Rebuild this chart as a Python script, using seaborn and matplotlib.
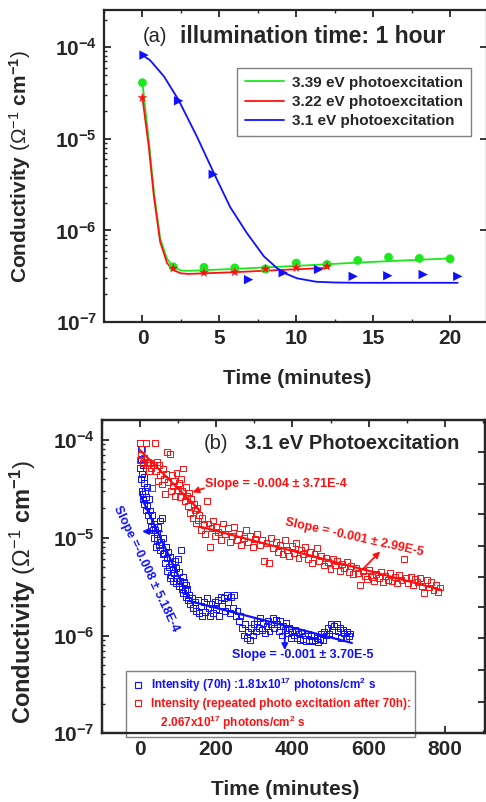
import numpy as np
import pandas as pd
import matplotlib
matplotlib.use("Agg")
import matplotlib.pyplot as plt
import seaborn as sns
from matplotlib.lines import Line2D
from matplotlib.ticker import LogLocator, NullFormatter, MultipleLocator, FixedLocator

# ---------------- Panel (a) data ----------------
t_green = [0, 2, 4, 6, 8, 10, 12, 14, 16, 18, 20]
s_green = [4.1e-5, 4.0e-7, 3.95e-7, 3.9e-7, 3.8e-7, 4.4e-7, 4.25e-7, 4.7e-7, 5.1e-7, 4.95e-7, 4.9e-7]
t_red = [0, 2, 4, 6, 8, 10, 12]
s_red = [2.8e-5, 3.85e-7, 3.45e-7, 3.5e-7, 3.8e-7, 3.9e-7, 4.05e-7]
t_blue = [0.1, 2.35, 4.6, 6.9, 9.15, 11.45, 13.7, 15.95, 18.25, 20.5]
s_blue = [8.2e-5, 2.6e-5, 4.1e-6, 2.9e-7, 3.45e-7, 3.75e-7, 3.15e-7, 3.2e-7, 3.3e-7, 3.15e-7]

fit_green_t = [0, 0.4, 0.75, 1.15, 1.6, 2.0, 2.5, 3, 6, 10, 14, 17, 20]
fit_green_s = [4.1e-5, 1.0e-5, 2.6e-6, 8.2e-7, 4.9e-7, 4.0e-7, 3.65e-7, 3.62e-7, 3.8e-7, 4.1e-7, 4.45e-7, 4.7e-7, 4.95e-7]
fit_red_t = [0, 0.4, 0.75, 1.15, 1.6, 2.0, 2.5, 3, 6, 9, 12]
fit_red_s = [2.8e-5, 8.5e-6, 2.3e-6, 7.5e-7, 4.4e-7, 3.7e-7, 3.4e-7, 3.35e-7, 3.5e-7, 3.7e-7, 3.9e-7]
fit_blue_t = [0, 0.5, 1.4, 2.35, 3.55, 4.65, 5.7, 6.8, 7.9, 9.0, 10.05, 11.3, 12.5, 14, 20.5]
fit_blue_s = [8.2e-5, 7.2e-5, 4.8e-5, 2.65e-5, 1.05e-5, 4.2e-6, 1.8e-6, 9.3e-7, 5.2e-7, 3.55e-7,
              3.0e-7, 2.75e-7, 2.7e-7, 2.68e-7, 2.68e-7]

legend_a = ["3.39 eV photoexcitation", "3.22 eV photoexcitation", "3.1 eV photoexcitation"]

# ---------------- Panel (b) data (conductivity in 1e-6 S/cm) ----------------
b_blue_t = [0, 0, 2, 3, 4, 5, 6, 7, 8, 9, 10, 11, 12, 14, 15, 16, 18, 20, 22, 24, 26, 28, 30, 32, 34, 36,
            38, 40, 42, 44, 46, 48, 50, 52, 54, 56, 58, 60, 62, 64, 66, 68, 70, 72, 74, 76, 78, 80, 82, 84,
            86, 88, 90, 92, 94, 96, 98, 100, 102, 104, 106, 108, 110, 112, 114, 116, 118, 120, 122, 124,
            126, 128, 132, 136, 140, 144, 148, 152, 156, 160, 164, 168, 172, 176, 180, 184, 188, 192, 196,
            200, 204, 208, 212, 216, 220, 224, 228, 232, 236, 240, 244, 248, 252, 256, 260, 264, 268, 272,
            276, 280, 284, 288, 292, 296, 300, 304, 308, 312, 316, 320, 324, 328, 332, 336, 340, 344, 348,
            352, 356, 360, 364, 368, 372, 376, 380, 384, 388, 392, 396, 400, 404, 408, 412, 416, 420, 424,
            428, 432, 436, 440, 444, 448, 452, 456, 460, 464, 468, 472, 476, 480, 484, 488, 492, 496, 500,
            504, 508, 512, 516, 520, 524, 528, 532, 536, 540, 544, 548, 552]
b_blue_uS = [93, 52, 81, 40, 64, 30, 45, 28, 55, 25, 36, 42, 22, 30, 26, 19, 33, 21, 17, 25, 15, 19, 13,
             17, 12, 14, 10, 12, 8, 11, 9.5, 13, 8.5, 7.5, 15, 9, 16, 6.8, 10, 7, 5.5, 8, 6.2, 4.6, 7.2, 5,
             3.9, 6.3, 4.2, 5.4, 3.6, 4.8, 4.4, 5.8, 3.4, 4.9, 3.9, 6.0, 3.2, 4.5, 3.6, 7.5, 3.0, 4.0, 2.7,
             3.5, 2.9, 3.3, 2.5, 3.0, 2.3, 2.6, 2.1, 2.4, 1.9, 2.2, 1.8, 2.3, 1.7, 2.0, 1.6, 2.2, 1.75, 2.4,
             1.9, 1.6, 2.1, 1.7, 2.2, 1.85, 2.3, 1.6, 2.5, 2.0, 2.4, 1.8, 2.6, 2.2, 1.7, 2.5, 1.9, 2.6, 1.6,
             1.8, 1.4, 1.6, 1.2, 1.0, 1.3, 0.95, 1.1, 0.9, 1.2, 1.0, 1.3, 1.1, 1.4, 1.2, 1.5, 1.15, 1.35,
             1.05, 1.25, 1.4, 1.1, 1.3, 1.5, 1.2, 1.45, 1.3, 1.1, 1.4, 1.0, 1.25, 1.15, 1.35, 1.05, 1.2,
             0.95, 1.1, 1.0, 1.15, 0.95, 1.05, 0.9, 1.1, 0.92, 1.0, 0.88, 1.05, 0.9, 0.98, 0.87, 1.0, 0.9,
             0.95, 0.85, 0.93, 1.05, 0.9, 1.1, 1.0, 1.2, 1.05, 1.3, 1.15, 1.25, 1.0, 1.3, 1.1, 1.2, 0.95,
             1.15, 1.05, 0.95, 1.1, 0.98, 1.05]
b_red_t = [0, 0, 3, 6, 9, 12, 15, 18, 21, 24, 27, 30, 33, 36, 39, 42, 45, 48, 51, 54, 57, 60, 63, 66, 69,
           72, 75, 78, 81, 84, 87, 90, 93, 96, 99, 102, 105, 108, 111, 114, 117, 120, 123, 126, 129, 132,
           135, 138, 141, 144, 147, 150, 153, 156, 160, 164, 168, 172, 176, 180, 184, 188, 192, 196, 200,
           206, 212, 218, 224, 230, 236, 242, 248, 254, 260, 266, 272, 278, 284, 290, 296, 302, 308, 314,
           320, 326, 332, 338, 344, 350, 356, 362, 368, 374, 380, 386, 392, 398, 404, 410, 416, 422, 428,
           434, 440, 446, 452, 458, 464, 470, 476, 482, 488, 494, 500, 506, 512, 518, 524, 530, 536, 542,
           548, 554, 560, 566, 572, 578, 584, 590, 596, 602, 608, 614, 620, 626, 632, 638, 644, 650, 656,
           662, 668, 674, 680, 686, 692, 698, 704, 710, 716, 722, 728, 734, 740, 746, 752, 758, 764, 770,
           776, 782, 786]
b_red_uS = [62, 93, 70, 80, 58, 66, 93, 55, 60, 48, 58, 52, 32, 56, 93, 48, 60, 38, 56, 44, 35, 50, 40,
            28, 45, 75, 37, 72, 30, 44, 34, 38, 27, 46, 31, 36, 26, 40, 30, 51, 24, 33, 27, 21, 29, 18, 25,
            16, 22, 19, 14, 20, 15, 17, 12, 16, 13.5, 11, 24, 14, 8, 12.5, 15, 10.5, 13, 11.5, 9.5, 14, 11,
            12.5, 9, 10.5, 13, 9.5, 11, 8.5, 10, 12, 9, 10.5, 8, 9.8, 11, 8.5, 9.5, 5.8, 8.8, 5.5, 10, 7.8,
            9, 7.2, 8.5, 6.8, 9.5, 7.5, 6.5, 8.2, 7, 8.8, 6.2, 7.5, 6.8, 8, 6, 7.2, 5.5, 6.8, 7.8, 5.8, 6.5,
            5.2, 6.2, 5.6, 4.8, 6, 5.2, 5.8, 4.6, 5.4, 4.9, 5.7, 4.5, 5.1, 4.3, 4.9, 4.4, 3.3, 4.6, 4.1, 3.8,
            4.7, 4.0, 3.6, 4.3, 3.9, 4.5, 3.5, 4.1, 3.7, 4.4, 3.6, 4.0, 3.4, 4.2, 3.7, 6.0, 3.9, 3.4, 4.0,
            3.3, 3.8, 3.5, 3.9, 3.2, 2.7, 3.7, 3.1, 3.5, 2.9, 3.3, 2.8, 3.1]

# linear fits (segments) in panel (b)
b_red_fit1_t, b_red_fit1 = [0, 157], [7.9e-5, 1.9e-5]
b_red_fit2_t, b_red_fit2 = [157, 789], [1.3e-5, 2.94e-6]
b_blue_fit1_t, b_blue_fit1 = [0, 127], [2.8e-5, 2.48e-6]
b_blue_fit2_t, b_blue_fit2 = [131, 556], [2.25e-6, 8.4e-7]

legend_b = ["Intensity (70h) :1.81x10$^{17}$ photons/cm$^{2}$ s",
            "Intensity (repeated photo excitation after 70h):",
            "   2.067x10$^{17}$ photons/cm$^{2}$ s"]

# right-axis tick marks of panel (b) (as drawn in the original)
b_right_ticks = [7.46e-5, 3.56e-5, 1.73e-5, 8.3e-6, 3.96e-6, 1.94e-6, 9.4e-7, 4.4e-7, 2.1e-7]

# ---------------- styling ----------------
sns.set_style("ticks")
plt.rcParams["font.family"] = ["Liberation Sans", "DejaVu Sans"]
plt.rcParams["font.weight"] = "bold"
plt.rcParams["mathtext.fontset"] = "custom"
plt.rcParams["mathtext.rm"] = "Liberation Sans"
plt.rcParams["mathtext.bf"] = "Liberation Sans:bold"
plt.rcParams["mathtext.it"] = "Liberation Sans:italic"
plt.rcParams["mathtext.default"] = "regular"
plt.rcParams["axes.linewidth"] = 1.6

GREEN = "#1de81d"
RED = "#ff1010"
BLUE = "#1010ff"

fig = plt.figure(figsize=(4.86, 8.02), dpi=100)
ax_a = fig.add_axes([104 / 486, 1 - 322 / 802, 383 / 486, 312 / 802])
ax_b = fig.add_axes([101.7 / 486, 1 - 733.3 / 802, 383.3 / 486, 313.3 / 802])

# ---- panel (a)
df_fit = pd.concat([
    pd.DataFrame({"t": fit_green_t, "s": fit_green_s, "k": legend_a[0]}),
    pd.DataFrame({"t": fit_red_t, "s": fit_red_s, "k": legend_a[1]}),
    pd.DataFrame({"t": fit_blue_t, "s": fit_blue_s, "k": legend_a[2]}),
])
pal = {legend_a[0]: GREEN, legend_a[1]: RED, legend_a[2]: BLUE}
sns.lineplot(data=df_fit, x="t", y="s", hue="k", palette=pal, estimator=None, sort=False,
             lw=1.3, ax=ax_a, legend=False)
sns.scatterplot(x=t_green, y=s_green, color=GREEN, marker="o", s=40, edgecolor="none", ax=ax_a, zorder=3)
sns.scatterplot(x=t_red, y=s_red, color=RED, marker="*", s=55, edgecolor="none", ax=ax_a, zorder=3)
sns.scatterplot(x=t_blue, y=s_blue, color=BLUE, marker=">", s=45, edgecolor="none", ax=ax_a, zorder=3)

ax_a.set_yscale("log")
ax_a.set_xlim(-2.5, 22.4)
ax_a.set_ylim(1e-7, 2.55e-4)
ax_a.xaxis.set_major_locator(MultipleLocator(5))
ax_a.xaxis.set_minor_locator(MultipleLocator(2.5))

handles_a = [Line2D([], [], color=GREEN, lw=1.3), Line2D([], [], color=RED, lw=1.3),
             Line2D([], [], color=BLUE, lw=1.3)]
leg_a = ax_a.legend(handles_a, legend_a, loc="upper left", bbox_to_anchor=(0.347, 0.814),
                    borderaxespad=0, fancybox=False, framealpha=1, edgecolor="#808080",
                    prop={"size": 11, "weight": "bold"}, handlelength=2.6, handletextpad=0.5,
                    labelspacing=0.35, borderpad=0.5)
leg_a.get_frame().set_linewidth(1.0)

ax_a.text(0.1, 0.915, "(a)", transform=ax_a.transAxes, fontsize=14.5, fontweight="normal",
          ha="left", va="center")
ax_a.text(0.198, 0.915, "illumination time: 1 hour", transform=ax_a.transAxes, fontsize=16.5,
          fontweight="bold", ha="left", va="center")

# ---- panel (b)
df_b = pd.concat([
    pd.DataFrame({"t": b_blue_t, "s": np.array(b_blue_uS) * 1e-6, "k": "blue"}),
    pd.DataFrame({"t": b_red_t, "s": np.array(b_red_uS) * 1e-6, "k": "red"}),
])
sns.scatterplot(data=df_b, x="t", y="s", hue="k", palette={"blue": BLUE, "red": RED}, marker="s",
                s=18, facecolor="none", linewidth=0.7, ax=ax_b, legend=False)
for coll in ax_b.collections:
    fc = coll.get_facecolors()
    coll.set_edgecolors(fc)
    coll.set_facecolors("none")

for tt, ss, col in [(b_red_fit1_t, b_red_fit1, RED), (b_red_fit2_t, b_red_fit2, RED),
                    (b_blue_fit1_t, b_blue_fit1, BLUE), (b_blue_fit2_t, b_blue_fit2, BLUE)]:
    sns.lineplot(x=tt, y=ss, color=col, lw=1.6, ax=ax_b, estimator=None)

ax_b.set_yscale("log")
ax_b.set_xlim(-100, 905)
ax_b.set_ylim(1e-7, 1.6e-4)
ax_b.xaxis.set_major_locator(MultipleLocator(200))
ax_b.xaxis.set_minor_locator(MultipleLocator(100))

ax_b.text(0.265, 0.925, "(b)", transform=ax_b.transAxes, fontsize=14.5, fontweight="normal",
          ha="left", va="center")
ax_b.text(0.373, 0.925, "3.1 eV Photoexcitation", transform=ax_b.transAxes, fontsize=14.5,
          fontweight="bold", ha="left", va="center")

arrow_kw = dict(arrowstyle="-|>", lw=1.3, mutation_scale=9, shrinkA=0, shrinkB=0)
ax_b.annotate("", xy=(138, 2.92e-5), xytext=(168, 3.2e-5),
              arrowprops=dict(color=RED, **arrow_kw))
ax_b.text(171, 3.58e-5, "Slope = -0.004 ± 3.71E-4", color=RED, fontsize=9, fontweight="bold",
          ha="left", va="center")
ax_b.annotate("", xy=(630, 7.24e-6), xytext=(586, 4.83e-6),
              arrowprops=dict(color=RED, **arrow_kw))
ax_b.text(562, 1.01e-5, "Slope = -0.001 ± 2.99E-5", color=RED, fontsize=9, fontweight="bold",
          ha="center", va="center", rotation=-12.5, rotation_mode="anchor")
ax_b.annotate("", xy=(6, 1.16e-5), xytext=(58, 1.16e-5),
              arrowprops=dict(color=BLUE, **arrow_kw))
ax_b.text(17.5, 4.83e-6, "Slope =-0.008 ± 5.18E-4", color=BLUE, fontsize=9, fontweight="bold",
          ha="center", va="center", rotation=-64.6, rotation_mode="anchor")
ax_b.annotate("", xy=(380, 7.1e-7), xytext=(380, 1.19e-6),
              arrowprops=dict(color=BLUE, **arrow_kw))
ax_b.text(428, 6.3e-7, "Slope = -0.001 ± 3.70E-5", color=BLUE, fontsize=9, fontweight="bold",
          ha="center", va="center")

handles_b = [Line2D([], [], marker="s", ls="none", mfc="none", mec=BLUE, ms=4, mew=0.8),
             Line2D([], [], marker="s", ls="none", mfc="none", mec=RED, ms=4, mew=0.8),
             Line2D([], [], ls="none")]
leg_b = ax_b.legend(handles_b, legend_b, loc="upper left", bbox_to_anchor=(0.063, 0.199),
                    borderaxespad=0, fancybox=False, framealpha=1, edgecolor="#808080",
                    prop={"size": 8.5, "weight": "bold"}, handlelength=1.2, handletextpad=0.5,
                    labelspacing=0.35, borderpad=0.4)
leg_b.get_frame().set_linewidth(1.0)
for txt, col in zip(leg_b.get_texts(), [BLUE, RED, RED]):
    txt.set_color(col)

# ---- common axes styling
ylab = r"$\mathbf{Conductivity}$ (Ω$^{-1}$ $\mathbf{cm^{-1}}$)"
for ax, ysz, ylx, yly, xlx, xly in [(ax_a, 15, -0.185, 0.5, 0.504, -0.151),
                                   (ax_b, 17, -0.166, 0.45, 0.478, -0.149)]:
    ax.set_ylabel(ylab, fontsize=ysz, fontweight="normal")
    ax.set_xlabel("Time (minutes)", fontsize=15, fontweight="bold")
    ax.yaxis.set_label_coords(ylx, yly)
    ax.xaxis.set_label_coords(xlx, xly)
    ax.yaxis.set_major_locator(LogLocator(base=10, numticks=10))
    ax.yaxis.set_minor_locator(LogLocator(base=10, subs=np.arange(2, 10), numticks=10))
    ax.yaxis.set_minor_formatter(NullFormatter())
    ax.tick_params(which="major", direction="in", length=5, width=1.3, labelsize=15, pad=5,
                   top=True, right=(ax is ax_a))
    ax.tick_params(which="minor", direction="in", length=2.5, width=1.0, top=True, right=False)
    for sp in ax.spines.values():
        sp.set_visible(True)
        sp.set_linewidth(1.6)
    for lab in ax.get_xticklabels() + ax.get_yticklabels():
        lab.set_fontweight("bold")

# right-side tick marks of panel (b)
ax_b2 = ax_b.twinx()
ax_b2.set_yscale("log")
ax_b2.set_ylim(ax_b.get_ylim())
ax_b2.yaxis.set_major_locator(FixedLocator(b_right_ticks))
ax_b2.yaxis.set_minor_locator(FixedLocator([]))
ax_b2.tick_params(axis="y", which="major", direction="in", length=5, width=1.3, labelright=False)
for sp in ax_b2.spines.values():
    sp.set_linewidth(1.6)

fig.savefig("out.png", dpi=100)
